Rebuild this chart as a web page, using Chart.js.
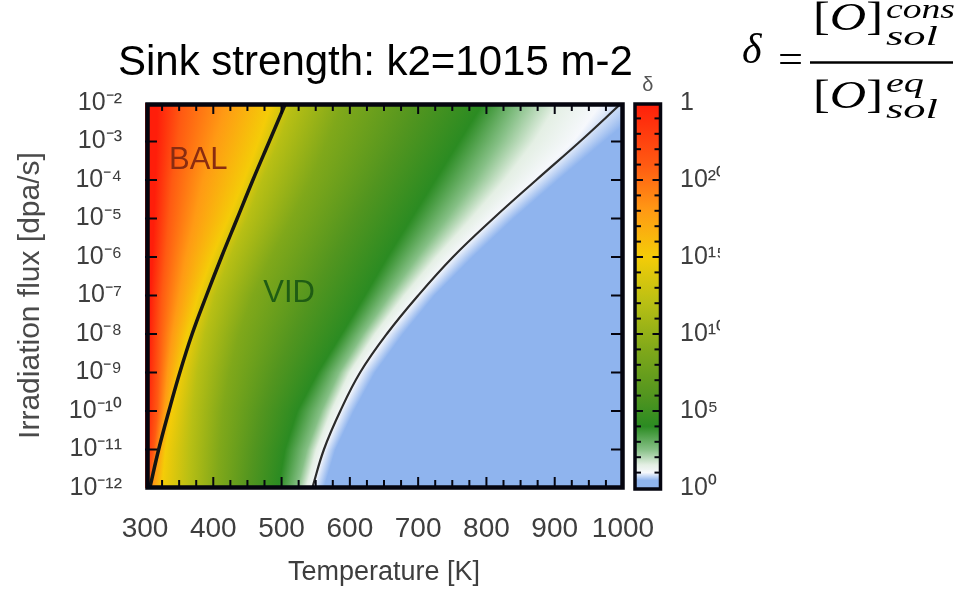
<!DOCTYPE html>
<html>
<head>
<meta charset="utf-8">
<script src="https://cdn.jsdelivr.net/npm/chart.js@4.4.1/dist/chart.umd.min.js"></script>
<style>
  html, body { margin: 0; padding: 0; background: #fff; }
  #wrap { position: relative; width: 963px; height: 589px; overflow: hidden; }
  #chart { position: absolute; left: 0; top: 0; }
  #notes { position: absolute; left: 0; top: 0; }
</style>
</head>
<body>
<div id="wrap">
  <canvas id="chart" width="720" height="589"></canvas>
  <svg id="notes" width="963" height="589" xmlns="http://www.w3.org/2000/svg">
    <text x="118" y="75" font-family="'Liberation Sans', Arial, sans-serif" font-size="42" fill="#000">Sink strength: k2=1015 m-2</text>
    <g font-family="'Liberation Serif', 'Times New Roman', serif" fill="#000">
      <text x="742" y="63" font-size="42" font-style="italic">δ</text>
      <text x="778" y="73" font-size="40" textLength="25" lengthAdjust="spacingAndGlyphs">=</text>
      <text x="813" y="30" font-size="40" textLength="70" lengthAdjust="spacingAndGlyphs">[<tspan font-style="italic">O</tspan>]</text>
      <text x="886" y="18" font-size="28" font-style="italic" textLength="69" lengthAdjust="spacingAndGlyphs">cons</text>
      <text x="886" y="45" font-size="28" font-style="italic" textLength="52" lengthAdjust="spacingAndGlyphs">sol</text>
      <line x1="810" y1="62.5" x2="953" y2="62.5" stroke="#000" stroke-width="2.5"/>
      <text x="813" y="108" font-size="40" textLength="70" lengthAdjust="spacingAndGlyphs">[<tspan font-style="italic">O</tspan>]</text>
      <text x="886" y="92" font-size="28" font-style="italic" textLength="38" lengthAdjust="spacingAndGlyphs">eq</text>
      <text x="886" y="118" font-size="28" font-style="italic" textLength="52" lengthAdjust="spacingAndGlyphs">sol</text>
    </g>
  </svg>
</div>
<script>
// irradiation flux rows (dpa/s) and axis labels
const fluxValues = [1e-2, 1e-3, 1e-4, 1e-5, 1e-6, 1e-7, 1e-8, 1e-9, 1e-10, 1e-11, 1e-12];
const fluxTickLabels = ['10⁻²', '10⁻³', '10⁻⁴', '10⁻⁵', '10⁻⁶', '10⁻⁷', '10⁻⁸', '10⁻⁹', '10⁻¹⁰', '10⁻¹¹', '10⁻¹²'];
const tempTicks = [300, 400, 500, 600, 700, 800, 900, 1000];
const tempTickLabels = ['300', '400', '500', '600', '700', '800', '900', '1000'];

// boundary lines: temperature (K) at each flux row
const balLimitT = [506, 482, 458, 435, 412, 390, 369, 351, 335, 320, 307];
const deltaOneT = [998, 937, 873, 810, 751, 700, 654, 615, 586, 562, 545];

// colour levels of log10(delta)
const deltaLevels = [25, 21, 18, 15, 12, 9, 6, 4, 2.5, 1.5, 1.0, 0.5];
const levelColors = ['#ff1e0a', '#ff5a12', '#ff9a14', '#f4cc08', '#b8bf14', '#80a81a',
                     '#52951f', '#2b8b22', '#86c086', '#e4efe4', '#f6f8fc', '#8fb4ee'];

// temperature (K) where log10(delta) reaches each level, per flux row
const lvl25  = [318, 317, 315, 313, 311, 308, 306, 304, 301, 299, 297];
const lvl21  = [355, 348, 340, 335, 330, 325, 322, 320, 318, 313, 304];
const lvl18  = [420, 402, 385, 373, 360, 350, 340, 333, 328, 320, 312];
const lvl15  = [485, 466, 445, 422, 398, 378, 362, 350, 340, 330, 325];
const lvl12  = [518, 496, 472, 450, 425, 403, 388, 377, 370, 366, 364];
const lvl9   = [590, 567, 543, 515, 485, 458, 438, 424, 414, 409, 406];
const lvl6   = [700, 672, 640, 607, 575, 545, 517, 492, 472, 460, 452];
const lvl4   = [795, 760, 725, 690, 655, 622, 588, 553, 523, 505, 495];
const lvl2_5 = [850, 819, 783, 742, 699, 658, 619, 584, 558, 537, 523];
const lvl1_5 = [905, 870, 827, 778, 727, 680, 637, 600, 573, 551, 536];
const lvl1   = [968, 927, 869, 808, 750, 700, 654, 615, 586, 562, 545];
const lvl0_5 = [1040, 972, 905, 840, 780, 724, 678, 637, 606, 579, 562];

// colour bar
const deltaTicks = [1, 1e5, 1e10, 1e15, 1e20, 1e25];
const deltaTickLabels = ['10⁰', '10⁵', '10¹⁰', '10¹⁵', '10²⁰', '1'];

const regionLabels = [
  { text: 'BAL', t: 378, flux: 3.3e-4, color: '#8a2c10' },
  { text: 'VID', t: 511, flux: 1.1e-7, color: '#1f5c14' }
];

const contours = [lvl25, lvl21, lvl18, lvl15, lvl12, lvl9, lvl6, lvl4, lvl2_5, lvl1_5, lvl1, lvl0_5];
const fluxExp = fluxValues.map(Math.log10);
const sans = "'Liberation Sans', Arial, sans-serif";
const textGrey = '#3e3e3e';

const fieldPlugin = {
  id: 'deltaField',
  beforeDatasetsDraw(chart) {
    const {ctx, chartArea: a, scales: {x, y}} = chart;
    const last = fluxExp.length - 1;
    ctx.save();
    ctx.beginPath();
    ctx.rect(a.left, a.top, a.width, a.height);
    ctx.clip();
    for (let py = Math.floor(a.top); py < Math.ceil(a.bottom); py++) {
      const e = Math.log10(y.getValueForPixel(py + 0.5));
      let r = (fluxExp[0] - e) / (fluxExp[0] - fluxExp[last]) * last;
      r = Math.max(0, Math.min(last, r));
      const i = Math.min(Math.floor(r), last - 1), f = r - i;
      let prev = -Infinity;
      const xs = contours.map(c => {
        const p = Math.max(prev, x.getPixelForValue(c[i] + (c[i + 1] - c[i]) * f));
        prev = p;
        return p;
      });
      const x0 = Math.min(xs[0], a.left) - 1;
      const x1 = Math.max(xs[xs.length - 1], a.right) + 1;
      const g = ctx.createLinearGradient(x0, 0, x1, 0);
      xs.forEach((p, k) => g.addColorStop((p - x0) / (x1 - x0), levelColors[k]));
      ctx.fillStyle = g;
      ctx.fillRect(a.left, py, a.width, 1);
    }
    ctx.restore();
  }
};

function seg(ctx, x1, y1, x2, y2) {
  ctx.beginPath();
  ctx.moveTo(x1, y1);
  ctx.lineTo(x2, y2);
  ctx.stroke();
}

const framePlugin = {
  id: 'frameAndBar',
  afterDatasetsDraw(chart) {
    const {ctx, chartArea: a, scales: {x, y, yc}} = chart;
    ctx.save();

    ctx.font = '31px ' + sans;
    ctx.textAlign = 'center';
    ctx.textBaseline = 'middle';
    regionLabels.forEach(r => {
      ctx.fillStyle = r.color;
      ctx.fillText(r.text, x.getPixelForValue(r.t), y.getPixelForValue(r.flux));
    });

    // inward ticks
    ctx.strokeStyle = '#05050f';
    ctx.lineWidth = 2;
    for (let t = 325; t < 1000; t += 25) {
      const px = x.getPixelForValue(t);
      const len = t % 100 === 0 ? 11 : 8;
      seg(ctx, px, a.bottom, px, a.bottom - len);
      seg(ctx, px, a.top, px, a.top + len);
    }
    fluxValues.slice(1, -1).forEach(v => {
      const py = y.getPixelForValue(v);
      seg(ctx, a.left, py, a.left + 12, py);
      seg(ctx, a.right, py, a.right - 12, py);
    });
    ctx.lineWidth = 4.5;
    ctx.strokeRect(a.left + 2.5, a.top + 1.5, a.width - 3, a.height - 2);

    // colour bar
    const bl = a.right + 12, br = a.right + 37.5;
    const b0 = yc.getPixelForValue(1), b1 = yc.getPixelForValue(1e25);
    const g = ctx.createLinearGradient(0, b0, 0, b1);
    for (let k = deltaLevels.length - 1; k >= 0; k--) {
      g.addColorStop(deltaLevels[k] / 25, levelColors[k]);
    }
    ctx.fillStyle = g;
    ctx.fillRect(bl, b1, br - bl, b0 - b1);
    ctx.lineWidth = 2;
    for (let d = 1; d < 25; d++) {
      const py = yc.getPixelForValue(Math.pow(10, d));
      const len = d % 5 === 0 ? 8 : 6;
      seg(ctx, bl, py, bl + len, py);
      seg(ctx, br, py, br - len, py);
    }
    ctx.lineWidth = 3.5;
    ctx.strokeRect(bl, b1 + 1, br - bl, b0 - b1);

    ctx.fillStyle = '#555';
    ctx.font = '20px ' + sans;
    ctx.fillText('δ', (bl + br) / 2, b1 - 18);
    ctx.restore();
  }
};

function curve(temps) {
  return fluxValues.map((f, i) => ({ x: temps[i], y: f }));
}

new Chart(document.getElementById('chart'), {
  type: 'scatter',
  data: {
    datasets: [
      { label: 'BAL', data: curve(balLimitT), showLine: true, borderColor: '#141414',
        borderWidth: 3.5, pointRadius: 0, tension: 0.4 },
      { label: 'delta = 1', data: curve(deltaOneT), showLine: true, borderColor: '#2b2b2b',
        borderWidth: 2.2, pointRadius: 0, tension: 0.4 }
    ]
  },
  options: {
    responsive: false,
    animation: false,
    events: [],
    layout: { padding: { top: 103, left: 0, right: 0, bottom: 0 } },
    plugins: { legend: { display: false }, tooltip: { enabled: false } },
    scales: {
      x: {
        type: 'linear', position: 'bottom', min: 300, max: 1000,
        afterFit: s => { s.height = 101; },
        afterBuildTicks: s => { s.ticks = tempTicks.map(v => ({ value: v })); },
        grid: { display: false, drawTicks: false },
        border: { display: false },
        ticks: {
          padding: 24, color: textGrey, font: { family: sans, size: 28 },
          maxRotation: 0, autoSkip: false,
          callback: v => tempTickLabels[tempTicks.indexOf(v)]
        },
        title: { display: true, text: 'Temperature [K]', color: textGrey,
                 font: { family: sans, size: 27 }, padding: { top: 0, bottom: 0 } }
      },
      y: {
        type: 'logarithmic', position: 'left', min: 1e-12, max: 1e-2,
        afterFit: s => { s.width = 145; },
        afterBuildTicks: s => { s.ticks = fluxValues.slice().reverse().map(v => ({ value: v })); },
        grid: { display: false, drawTicks: false },
        border: { display: false },
        ticks: {
          padding: 23, color: textGrey, font: { family: sans, size: 25 }, autoSkip: false,
          callback: v => fluxTickLabels[fluxExp.findIndex(e => Math.abs(e - Math.log10(v)) < 1e-6)]
        },
        title: { display: true, text: 'Irradiation flux [dpa/s]', color: '#4a4a4a',
                 font: { family: sans, size: 30 }, padding: { top: 13, bottom: 0 } }
      },
      yc: {
        type: 'logarithmic', position: 'right', min: 1, max: 1e25,
        afterFit: s => { s.width = 97; },
        afterBuildTicks: s => { s.ticks = deltaTicks.map(v => ({ value: v })); },
        grid: { display: false, drawTicks: false },
        border: { display: false },
        ticks: {
          padding: 57, color: textGrey, font: { family: sans, size: 25 }, autoSkip: false,
          callback: v => deltaTickLabels[deltaTicks.findIndex(d => Math.abs(Math.log10(d) - Math.log10(v)) < 1e-6)]
        }
      }
    }
  },
  plugins: [fieldPlugin, framePlugin]
});
</script>
</body>
</html>
